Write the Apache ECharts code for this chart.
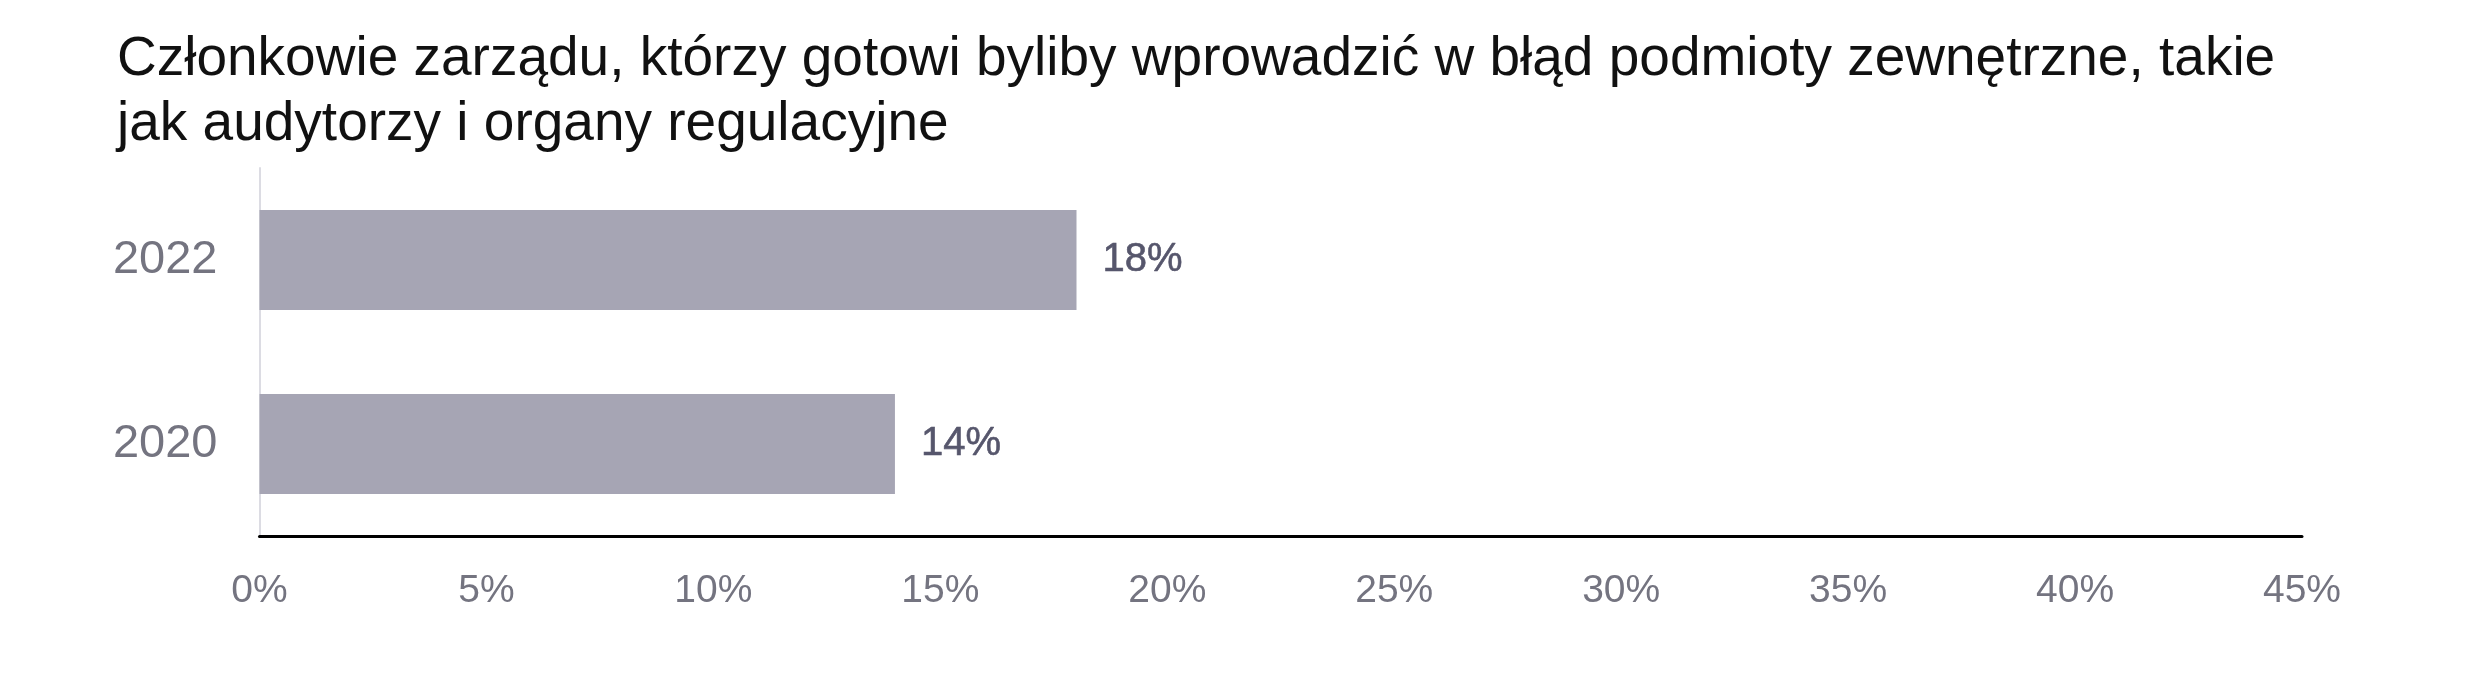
<!DOCTYPE html>
<html>
<head>
<meta charset="utf-8">
<script src="https://cdn.jsdelivr.net/npm/echarts@6/dist/echarts.min.js"></script>
<style>html,body{margin:0;padding:0;background:#fff;}#chart{width:2481px;height:673px;}</style>
</head>
<body>
<div id="chart"></div>
<script>
const titleText = 'Członkowie zarządu, którzy gotowi byliby wprowadzić w błąd podmioty zewnętrzne, takie\njak audytorzy i organy regulacyjne';
const categories = ['2020', '2022'];
const values = [14, 18];
const xTicks = [0, 5, 10, 15, 20, 25, 30, 35, 40, 45];

const chart = echarts.init(document.getElementById('chart'), null, {renderer: 'canvas'});
chart.setOption({
  backgroundColor: '#ffffff',
  animation: false,
  title: {
    text: titleText,
    left: 112,
    top: 22,
    textStyle: {
      fontFamily: 'Liberation Sans, Arial, sans-serif',
      fontSize: 55,
      fontWeight: 'normal',
      color: '#111111',
      lineHeight: 65
    }
  },
  grid: {left: 259.5, right: 179, top: 168, bottom: 137, containLabel: false},
  xAxis: {
    type: 'value',
    min: xTicks[0],
    max: xTicks[xTicks.length - 1],
    interval: 5,
    axisLine: {show: true, lineStyle: {color: '#000000', width: 3}},
    axisTick: {show: false},
    splitLine: {show: false},
    axisLabel: {
      formatter: '{value}%',
      color: '#747480',
      fontFamily: 'Liberation Sans, Arial, sans-serif',
      fontSize: 39,
      margin: 36
    }
  },
  yAxis: {
    type: 'category',
    data: categories,
    axisLine: {show: true, lineStyle: {color: '#dcdce3', width: 2}},
    axisTick: {show: false},
    axisLabel: {
      color: '#747480',
      fontFamily: 'Liberation Sans, Arial, sans-serif',
      fontSize: 47,
      margin: 42
    }
  },
  series: [{
    type: 'bar',
    data: values,
    barWidth: 100,
    itemStyle: {color: '#a6a5b4'},
    label: {
      show: true,
      position: 'right',
      distance: 26,
      formatter: '{c}%',
      color: '#56566c',
      fontFamily: 'Liberation Sans, Arial, sans-serif',
      fontSize: 40,
      fontWeight: 'normal',
      textBorderColor: '#56566c',
      textBorderWidth: 0.6
    }
  }]
});
</script>
</body>
</html>
